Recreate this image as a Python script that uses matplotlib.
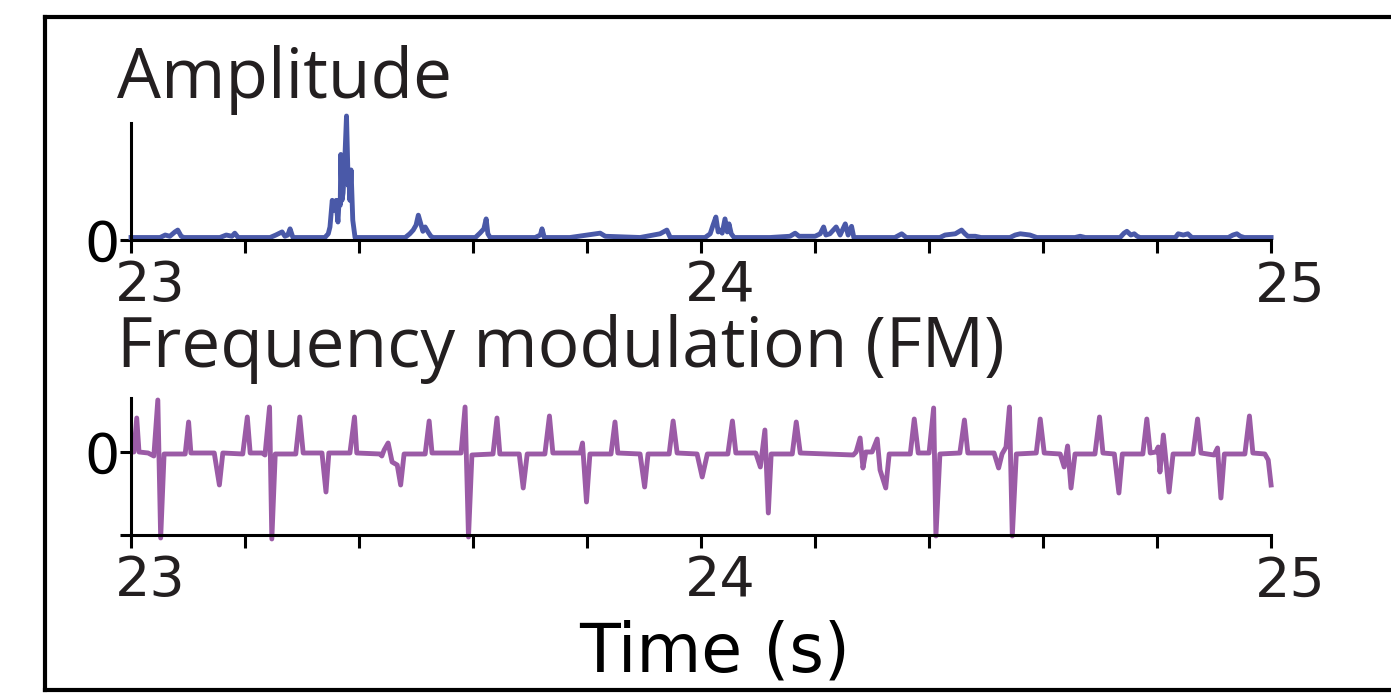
import numpy as np
import matplotlib
matplotlib.use("Agg")
import matplotlib.pyplot as plt
import matplotlib.transforms as mtransforms
from matplotlib.lines import Line2D

# amplitude trace (time in s, arbitrary units)
amp_t = [23.000, 23.051, 23.060, 23.068, 23.077, 23.082, 23.088, 23.093, 23.156, 23.167,
         23.177, 23.182, 23.188, 23.244, 23.254, 23.265, 23.270, 23.275, 23.279, 23.284,
         23.340, 23.346, 23.349, 23.353, 23.356, 23.360, 23.361, 23.363, 23.365, 23.367,
         23.368, 23.370, 23.372, 23.375, 23.378, 23.381, 23.382, 23.384, 23.386, 23.389,
         23.393, 23.481, 23.489, 23.495, 23.500, 23.504, 23.509, 23.512, 23.516, 23.521,
         23.526, 23.530, 23.604, 23.612, 23.619, 23.623, 23.626, 23.630, 23.709, 23.718,
         23.721, 23.725, 23.770, 23.823, 23.832, 23.893, 23.928, 23.940, 23.946, 24.007,
         24.016, 24.021, 24.026, 24.030, 24.033, 24.037, 24.042, 24.046, 24.049, 24.053,
         24.058, 24.121, 24.156, 24.165, 24.172, 24.200, 24.209, 24.215, 24.219, 24.226,
         24.237, 24.244, 24.253, 24.258, 24.264, 24.268, 24.340, 24.352, 24.360, 24.419,
         24.428, 24.446, 24.457, 24.463, 24.468, 24.481, 24.491, 24.542, 24.551, 24.560,
         24.577, 24.589, 24.656, 24.665, 24.674, 24.735, 24.742, 24.747, 24.754, 24.760,
         24.765, 24.770, 24.832, 24.837, 24.846, 24.854, 24.861, 24.925, 24.933, 24.940,
         24.946, 24.953, 25.000]
amp_v = [0.02, 0.02, 0.04, 0.03, 0.065, 0.08, 0.03, 0.02, 0.02, 0.04,
         0.03, 0.055, 0.02, 0.02, 0.04, 0.065, 0.03, 0.04, 0.09, 0.02,
         0.02, 0.05, 0.105, 0.32, 0.24, 0.32, 0.24, 0.145, 0.32, 0.28,
         0.69, 0.32, 0.38, 0.645, 1.0, 0.44, 0.52, 0.32, 0.565, 0.16,
         0.02, 0.02, 0.05, 0.08, 0.12, 0.20, 0.12, 0.07, 0.105, 0.065,
         0.03, 0.02, 0.02, 0.055, 0.09, 0.17, 0.05, 0.02, 0.02, 0.04,
         0.09, 0.02, 0.02, 0.055, 0.03, 0.02, 0.05, 0.08, 0.02, 0.02,
         0.05, 0.12, 0.185, 0.065, 0.08, 0.055, 0.17, 0.065, 0.13, 0.05,
         0.02, 0.02, 0.03, 0.055, 0.03, 0.03, 0.05, 0.105, 0.04, 0.05,
         0.105, 0.04, 0.13, 0.04, 0.11, 0.02, 0.02, 0.05, 0.02, 0.02,
         0.04, 0.05, 0.08, 0.05, 0.03, 0.03, 0.02, 0.02, 0.04, 0.05,
         0.04, 0.02, 0.02, 0.03, 0.02, 0.02, 0.055, 0.07, 0.04, 0.05,
         0.03, 0.02, 0.02, 0.05, 0.04, 0.05, 0.02, 0.02, 0.04, 0.05,
         0.03, 0.02, 0.02]

# frequency modulation trace
fm_t = [23.004, 23.005, 23.010, 23.014, 23.030, 23.040, 23.047, 23.052, 23.058, 23.095,
        23.101, 23.105, 23.146, 23.155, 23.161, 23.196, 23.204, 23.209, 23.230, 23.235,
        23.243, 23.247, 23.253, 23.289, 23.296, 23.302, 23.335, 23.342, 23.347, 23.384,
        23.392, 23.396, 23.437, 23.440, 23.444, 23.451, 23.458, 23.467, 23.473, 23.479,
        23.516, 23.523, 23.528, 23.568, 23.579, 23.586, 23.592, 23.598, 23.635, 23.642,
        23.647, 23.681, 23.688, 23.695, 23.726, 23.734, 23.740, 23.788, 23.792, 23.799,
        23.805, 23.842, 23.849, 23.854, 23.893, 23.901, 23.907, 23.944, 23.951, 23.958,
        23.993, 24.002, 24.011, 24.047, 24.055, 24.061, 24.096, 24.104, 24.112, 24.118,
        24.123, 24.160, 24.167, 24.174, 24.267, 24.272, 24.279, 24.284, 24.289, 24.300,
        24.309, 24.314, 24.324, 24.330, 24.367, 24.374, 24.381, 24.400, 24.408, 24.412,
        24.419, 24.454, 24.462, 24.468, 24.514, 24.522, 24.528, 24.535, 24.541, 24.546,
        24.553, 24.588, 24.595, 24.602, 24.630, 24.637, 24.643, 24.649, 24.656, 24.691,
        24.699, 24.705, 24.725, 24.733, 24.739, 24.775, 24.782, 24.788, 24.798, 24.802,
        24.805, 24.811, 24.821, 24.828, 24.863, 24.871, 24.877, 24.900, 24.906, 24.912,
        24.918, 24.954, 24.962, 24.968, 24.989, 24.995, 25.000]
fm_v = [0.0, 0.0, 0.34, 0.0, -0.01, -0.04, 0.52, -0.86, -0.02, -0.02,
        0.30, -0.01, -0.01, -0.33, -0.01, -0.02, 0.35, -0.01, -0.01, -0.03,
        0.45, -0.87, -0.02, -0.02, 0.35, -0.01, -0.01, -0.40, -0.01, -0.01,
        0.35, -0.01, -0.02, -0.04, 0.02, 0.09, -0.10, -0.13, -0.33, -0.02,
        -0.02, 0.31, -0.01, -0.01, -0.01, 0.45, -0.85, -0.03, -0.02, 0.34,
        -0.02, -0.02, -0.36, -0.02, -0.02, 0.36, -0.01, -0.01, 0.09, -0.50,
        -0.02, -0.02, 0.30, -0.01, -0.02, -0.35, -0.02, -0.02, 0.31, -0.01,
        -0.02, -0.25, -0.02, -0.02, 0.31, -0.01, -0.01, -0.15, 0.22, -0.61,
        -0.02, -0.02, 0.30, -0.01, -0.03, 0.0, 0.14, -0.16, 0.0, 0.0,
        0.13, -0.18, -0.36, -0.02, -0.02, 0.33, -0.01, -0.01, 0.44, -0.84,
        -0.02, -0.01, 0.32, -0.01, -0.01, -0.16, -0.02, 0.05, 0.45, -0.84,
        -0.02, -0.01, 0.33, -0.01, -0.02, -0.15, 0.06, -0.36, -0.02, -0.02,
        0.35, -0.01, -0.02, -0.41, -0.02, -0.02, 0.33, -0.01, 0.0, 0.05,
        -0.20, 0.17, -0.40, -0.02, -0.02, 0.33, -0.01, -0.03, 0.04, -0.46,
        -0.02, -0.02, 0.36, -0.01, -0.02, -0.08, -0.33]

xticks = np.arange(23, 25.01, 0.2)
xlabels = ["23", "", "", "", "", "24", "", "", "", "", "25"]

blue = "#4a59a8"
purple = "#9b5ba6"
gray = "#231f20"

fig = plt.figure(figsize=(13.91, 6.93), dpi=100)
ax1 = fig.add_axes([0.0942, 0.6537, 0.8196, 0.1789])
ax2 = fig.add_axes([0.0942, 0.2280, 0.8196, 0.1977])

ax1.plot(amp_t, amp_v, color=blue, lw=3.5, clip_on=False, solid_joinstyle="round")
ax1.set_ylim(0, 1.0)
ax1.spines["left"].set_bounds(0, 0.944)

ax2.plot(fm_t, fm_v, color=purple, lw=3.5, clip_on=False, solid_joinstyle="round")
ax2.set_ylim(-0.83, 0.54)

offset = mtransforms.ScaledTranslation(0.19, 0, fig.dpi_scale_trans)
for ax in (ax1, ax2):
    ax.set_xlim(23, 25)
    for s in ("top", "right"):
        ax.spines[s].set_visible(False)
    for s in ("left", "bottom"):
        ax.spines[s].set_linewidth(2.2)
    ax.set_xticks(xticks)
    ax.set_xticklabels(xlabels, fontsize=40, color=gray)
    ax.tick_params(axis="x", length=9, width=2.2, pad=5)
    ax.tick_params(axis="y", length=8, width=2.2, pad=0, labelsize=40)
    for lab in ax.get_xticklabels():
        lab.set_transform(lab.get_transform() + offset)

ax1.set_yticks([0])
ax1.set_yticklabels(["0"])
ax2.set_yticks([-0.83, 0])
ax2.set_yticklabels(["", "0"])

fig.text(117 / 1391, 1 - 98 / 693, "Amplitude", fontsize=50, color=gray,
         family="Open Sans", va="baseline", ha="left")
fig.text(117 / 1391, 1 - 367 / 693, "Frequency modulation (FM)", fontsize=50,
         color=gray, family="Open Sans", va="baseline", ha="left")
fig.text(715 / 1391, 1 - 672 / 693, "Time (s)", fontsize=48, color="black",
         va="baseline", ha="center")

# frame around the panel
x0, y0, y1 = 45 / 1391, 1 - 690 / 693, 1 - 17 / 693
for xs, ys in [([x0, x0], [y0, y1]), ([x0, 1.01], [y1, y1]), ([x0, 1.01], [y0, y0])]:
    fig.add_artist(Line2D(xs, ys, color="black", lw=3, transform=fig.transFigure))

fig.savefig("out.png", dpi=100)
